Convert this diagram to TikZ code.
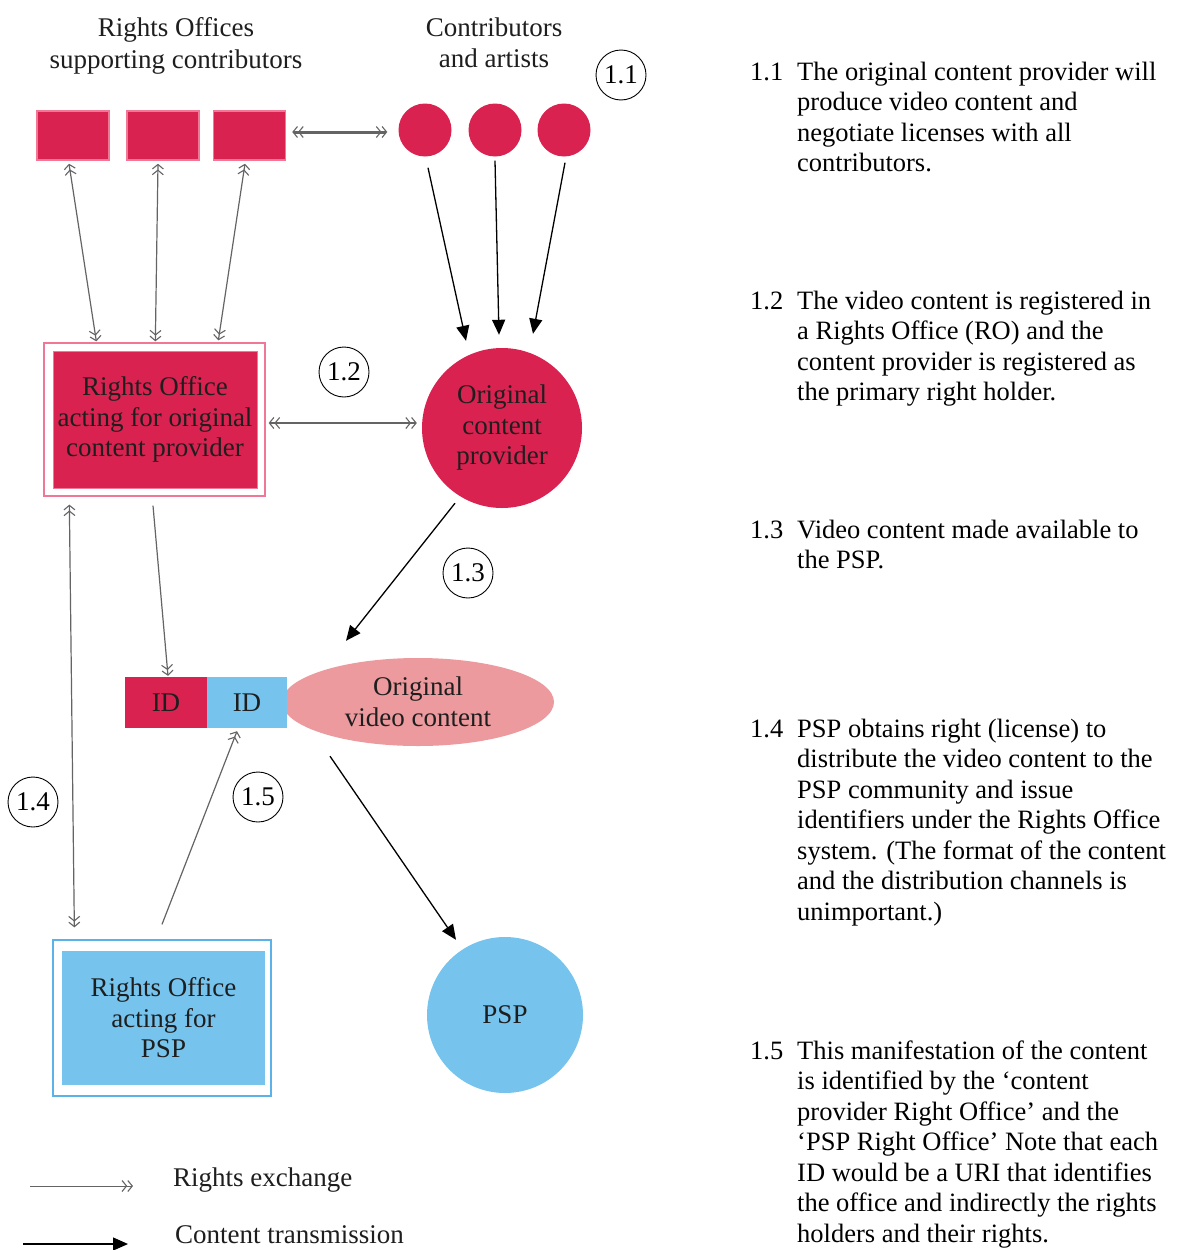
\documentclass[tikz,border=0pt]{standalone}
\usepackage{fontspec}
\setmainfont{Liberation Serif}
\usetikzlibrary{arrows.meta,shapes.geometric,calc}

\definecolor{crim}{RGB}{218,34,80}
\definecolor{crimedge}{RGB}{238,120,150}
\definecolor{rose}{RGB}{236,154,158}
\definecolor{sky}{RGB}{118,196,238}
\definecolor{skyedge}{RGB}{90,178,232}
\definecolor{rexgray}{RGB}{100,100,100}
\definecolor{ink}{RGB}{30,30,30}

\newcommand\dgfont{\fontsize{27}{30.5}\selectfont}
\newcommand\hdfont{\fontsize{27}{31.5}\selectfont}
\newcommand\txfont{\fontsize{26.5}{30.5}\selectfont}

\tikzset{
  Chev/.tip={Straight Barb[length=4.5pt,width=11pt,line width=1.1pt] Straight Barb[length=4.5pt,width=11pt,line width=1.1pt]},
  hd/.style={align=center, font=\hdfont, text=ink, inner sep=0pt},
  sqbox/.style={rectangle, fill=crim, draw=crimedge, line width=1.5pt,
    minimum width=72pt, minimum height=49pt, inner sep=0pt},
  dot/.style={circle, fill=crim, minimum size=53pt, inner sep=0pt},
  tag/.style={ellipse, draw=black, line width=0.9pt, minimum width=50pt,
    minimum height=50pt, inner sep=0pt, font=\dgfont},
  frame/.style={rectangle, line width=1.3pt, inner sep=0pt},
  panel/.style={rectangle, align=center, font=\dgfont, text=ink, inner sep=0pt},
  rex/.style={draw=rexgray, line width=1.2pt},
  rexboth/.style={rex, Chev-Chev},
  rexto/.style={rex, -Chev},
  feed/.style={draw=black, line width=1.3pt, -{Triangle[length=15pt,width=13pt]}},
  num/.style={anchor=base west, font=\txfont, inner sep=0pt},
  para/.style={anchor=base west, font=\txfont, inner sep=0pt},
}

\begin{document}
\begin{tikzpicture}[x=1pt,y=-1pt]
\useasboundingbox (0,0) rectangle (1176,1250);
\fill[white] (0,0) rectangle (1176,1250);

% headings
\node[hd] (hro) at (176,46) {Rights Offices\\supporting contributors};
\node[hd] (hca) at (494,43) {Contributors\\and artists};

% rights offices of the contributors
\node[sqbox] (sq1) at (73,135.5) {};
\node[sqbox] (sq2) at (163,135.5) {};
\node[sqbox] (sq3) at (249.5,135.5) {};

% contributors and artists
\node[dot] (c1) at (425,130) {};
\node[dot] (c2) at (495,130) {};
\node[dot] (c3) at (564,130) {};

% step tags
\node[tag] (l11) at (621,75) {1.1};
\node[tag] (l12) at (344,372) {1.2};
\node[tag] (l13) at (468,573) {1.3};
\node[tag] (l14) at (33,802) {1.4};
\node[tag] (l15) at (258,797) {1.5};

% rights office of the content provider
\node[frame, draw=crimedge, minimum width=221pt, minimum height=153pt] (rofr) at (154.5,419.5) {};
\node[panel, fill=crim, draw=crimedge, line width=0.8pt, minimum width=204pt, minimum height=137pt] (ro) at (155,419.5)
  {Rights Office\\acting for original\\content provider};

% content provider
\node[circle, fill=crim, minimum size=160pt, inner sep=0pt, align=center, font=\dgfont, text=ink] (oc) at (502,428)
  {Original\\content\\provider};

% original video content with its identifiers
\node[ellipse, fill=rose, minimum width=272pt, minimum height=88pt, inner sep=0pt, align=center, font=\dgfont, text=ink] (vid) at (418,702)
  {Original\\video content};
\node[panel, fill=crim, minimum width=82pt, minimum height=51pt] (idr) at (166,702.5) {ID};
\node[panel, fill=sky, minimum width=80pt, minimum height=51pt] (idb) at (247,702.5) {ID};

% rights office of the PSP
\node[frame, draw=skyedge, minimum width=218pt, minimum height=156pt] (ropfr) at (162,1018) {};
\node[panel, fill=sky, minimum width=203pt, minimum height=134pt] (rop) at (163.5,1018)
  {Rights Office\\acting for\\PSP};

% PSP
\node[circle, fill=sky, minimum size=156pt, inner sep=0pt, font=\dgfont, text=ink] (psp) at (505,1015) {PSP};

% rights exchanges
\draw[rexboth] ($(sq1.south)+(-4,3)$) -- ($(rofr.north west)+(53,-1)$);
\draw[rexboth] ($(sq2.south)+(-5,3)$) -- ($(rofr.north west)+(112,-1)$);
\draw[rexboth] ($(sq3.south)+(-4.5,3)$) -- ($(rofr.north west)+(175,-2)$);
\draw[rexboth, line width=3pt] ($(sq3.east)+(6,-3.5)$) -- ($(c1.west)+(-11,2)$);
\draw[rexboth] ($(rofr.east)+(3,3.5)$) -- ($(oc.west)+(-5,-5)$);
\draw[rexto] ($(rofr.south)+(-1.5,9)$) -- ($(idr.north)+(2,-1)$);
\draw[rexboth] ($(rofr.south west)+(26,8)$) -- ($(ropfr.north west)+(22,-12)$);
\draw[rexto] ($(ropfr.north)+(0,-15)$) -- ($(idb.south)+(-10,3)$);

% content transmissions
\draw[feed] ($(c1.south)+(3,11)$) -- ($(oc.north)+(-36,-7)$);
\draw[feed] ($(c2.south)+(0,4)$) -- ($(oc.north)+(-3,-13)$);
\draw[feed] ($(c3.south)+(1,6)$) -- ($(oc.north)+(31,-14)$);
\draw[feed] ($(oc.south)+(-47,-5)$) -- ($(vid.north)+(-72,-17)$);
\draw[feed] ($(vid.south)+(-88,10)$) -- ($(psp.north)+(-49,3)$);

% legend
\coordinate (ra) at (30,1186);
\coordinate (rb) at (133,1186);
\coordinate (ca) at (23,1244);
\coordinate (cb) at (128,1244);
\draw[rexto, line width=0.9pt] (ra) -- (rb);
\draw[feed] (ca) -- (cb);
\node[anchor=west, font=\dgfont, text=ink, inner sep=0pt] (lgr) at (173,1180) {Rights exchange};
\node[anchor=west, font=\dgfont, text=ink, inner sep=0pt] (lgc) at (175,1235) {Content transmission};

% step descriptions
\node[num] (n11) at (750,80) {1.1};
\node[para] (t11) at (797,80) {\begin{tabular}[t]{@{}l@{}}The original content provider will\\produce video content and\\negotiate licenses with all\\contributors.\end{tabular}};
\node[num] (n12) at (750,309) {1.2};
\node[para] (t12) at (797,309) {\begin{tabular}[t]{@{}l@{}}The video content is registered in\\a Rights Office (RO) and the\\content provider is registered as\\the primary right holder.\end{tabular}};
\node[num] (n13) at (750,538) {1.3};
\node[para] (t13) at (797,538) {\begin{tabular}[t]{@{}l@{}}Video content made available to\\the PSP.\end{tabular}};
\node[num] (n14) at (750,737) {1.4};
\node[para] (t14) at (797,737) {\begin{tabular}[t]{@{}l@{}}PSP obtains right (license) to\\distribute the video content to the\\PSP community and issue\\identifiers under the Rights Office\\system. (The format of the content\\and the distribution channels is\\unimportant.)\end{tabular}};
\node[num] (n15) at (750,1059) {1.5};
\node[para] (t15) at (797,1059) {\begin{tabular}[t]{@{}l@{}}This manifestation of the content\\is identified by the ‘content\\provider Right Office’ and the\\‘PSP Right Office’ Note that each\\ID would be a URI that identifies\\the office and indirectly the rights\\holders and their rights.\end{tabular}};
\end{tikzpicture}
\end{document}
